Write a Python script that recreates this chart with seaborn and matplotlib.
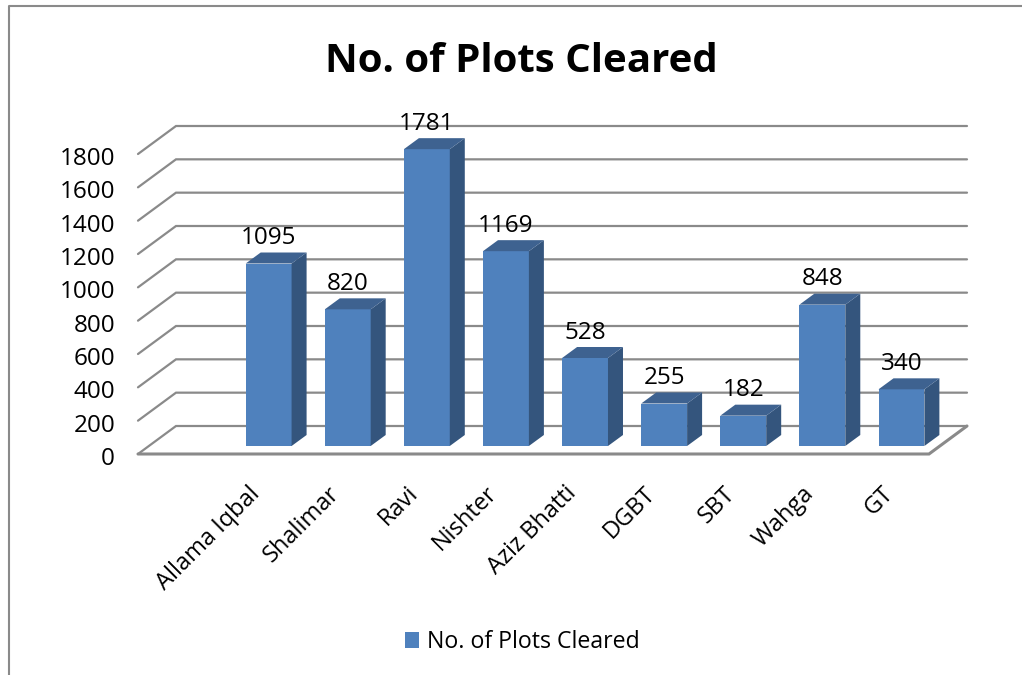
import numpy as np
import pandas as pd
import seaborn as sns
import matplotlib.pyplot as plt
from matplotlib.lines import Line2D
from matplotlib.patches import Polygon
from matplotlib.transforms import ScaledTranslation

OUT_NAME = "out.png"

# chart values
CATEGORIES = ["Allama Iqbal", "Shalimar", "Ravi", "Nishter", "Aziz Bhatti", "DGBT", "SBT", "Wahga", "GT"]
PLOTS_CLEARED = [1095, 820, 1781, 1169, 528, 255, 182, 848, 340]
Y_TICKS = [0, 200, 400, 600, 800, 1000, 1200, 1400, 1600, 1800]
SERIES_NAME = "No. of Plots Cleared"

# colours of the fake 3D look
FRONT = "#4F81BD"
SIDE = "#34557D"
TOP = "#3E6290"
GRID = "#8A8A8A"

# pixel sizes of the plot area, front plane of the floor
W, H = 1022, 675
LEFT, RIGHT, BOTTOM, TOP_Y = 138, 929, 454, 154
PX_X = (RIGHT - LEFT) / 10
PX_Y = (BOTTOM - TOP_Y) / 1800

# depth of the walls and of the bars, px converted to data units
WALL_DX, WALL_DY = 38 / PX_X, 28 / PX_Y
BAR_SHIFT_X, BAR_SHIFT_Y = 12 / PX_X, 8 / PX_Y
BAR_DX, BAR_DY = 15 / PX_X, 11 / PX_Y

sns.set_theme(style="white")
plt.rcParams["font.family"] = ["Open Sans", "DejaVu Sans"]
plt.rcParams["text.color"] = "black"

df = pd.DataFrame({"area": CATEGORIES, "plots": PLOTS_CLEARED})

fig = plt.figure(figsize=(W / 100, H / 100), dpi=100)
ax = fig.add_axes([LEFT / W, 1 - BOTTOM / H, (RIGHT - LEFT) / W, (BOTTOM - TOP_Y) / H])

sns.barplot(data=df, x="area", y="plots", color=FRONT, saturation=1, width=0.58,
            label=SERIES_NAME, legend=False, ax=ax, zorder=3, linewidth=0)

x0, x1 = -1.5, 8.5
ax.set_xlim(x0, x1)
ax.set_ylim(0, 1800)

# back wall and side wall lines
for y in Y_TICKS:
    ax.plot([x0, x0 + WALL_DX, x1 + WALL_DX], [y, y + WALL_DY, y + WALL_DY],
            color=GRID, lw=1.6, clip_on=False, zorder=1, solid_joinstyle="miter")
ax.plot([x0, x1, x1 + WALL_DX], [0, 0, WALL_DY], color=GRID, lw=2.2, clip_on=False, zorder=1,
        solid_joinstyle="miter")

# move bars back onto the floor, add side and top faces
for patch, val in zip(ax.patches, PLOTS_CLEARED):
    patch.set_x(patch.get_x() + BAR_SHIFT_X)
    patch.set_y(BAR_SHIFT_Y)
    patch.set_clip_on(False)
    xa = patch.get_x()
    xb = xa + patch.get_width()
    ya = BAR_SHIFT_Y
    yb = ya + val
    ax.add_patch(Polygon([(xb, ya), (xb + BAR_DX, ya + BAR_DY), (xb + BAR_DX, yb + BAR_DY), (xb, yb)],
                         closed=True, fc=SIDE, ec="none", clip_on=False, zorder=3))
    ax.add_patch(Polygon([(xa, yb), (xa + BAR_DX, yb + BAR_DY), (xb + BAR_DX, yb + BAR_DY), (xb, yb)],
                         closed=True, fc=TOP, ec="none", clip_on=False, zorder=3))
    ax.annotate(str(val), ((xa + xb) / 2, yb), xytext=(0, 18.3), textcoords="offset points",
                ha="center", va="center", fontsize=17.5, color="black", zorder=4,
                annotation_clip=False)

sns.despine(ax=ax, left=True, bottom=True)
ax.set_xlabel("")
ax.set_ylabel("")
ax.set_yticks(Y_TICKS)
ax.tick_params(axis="y", length=0, pad=16.5, labelsize=17.5, labelcolor="black")
ax.tick_params(axis="x", length=0, pad=26, labelsize=17, labelcolor="black")
plt.setp(ax.get_xticklabels(), rotation=45, ha="right", va="center", rotation_mode="anchor")

# nudge the y labels down a little, 2px
nudge = ScaledTranslation(0, -2 / 100, fig.dpi_scale_trans)
for lab in ax.get_yticklabels():
    lab.set_transform(lab.get_transform() + nudge)

fig.text(521 / W, 1 - 62 / H, SERIES_NAME, ha="center", va="center", fontsize=29, fontweight="bold", color="black")

handles, labels = ax.get_legend_handles_labels()
ax.legend(handles[:1], labels[:1], loc="center", bbox_to_anchor=(522 / W, 1 - 642 / H),
          bbox_transform=fig.transFigure, frameon=False, fontsize=16.7,
          handlelength=0.6, handleheight=0.65, handletextpad=0.35)

# outer chart border, only the left and top edges are in the crop
fig.add_artist(Line2D([9 / W, 9 / W, 1], [0, 1 - 6 / H, 1 - 6 / H], color=GRID, lw=1.5))

fig.savefig(OUT_NAME, dpi=100)
plt.close(fig)
